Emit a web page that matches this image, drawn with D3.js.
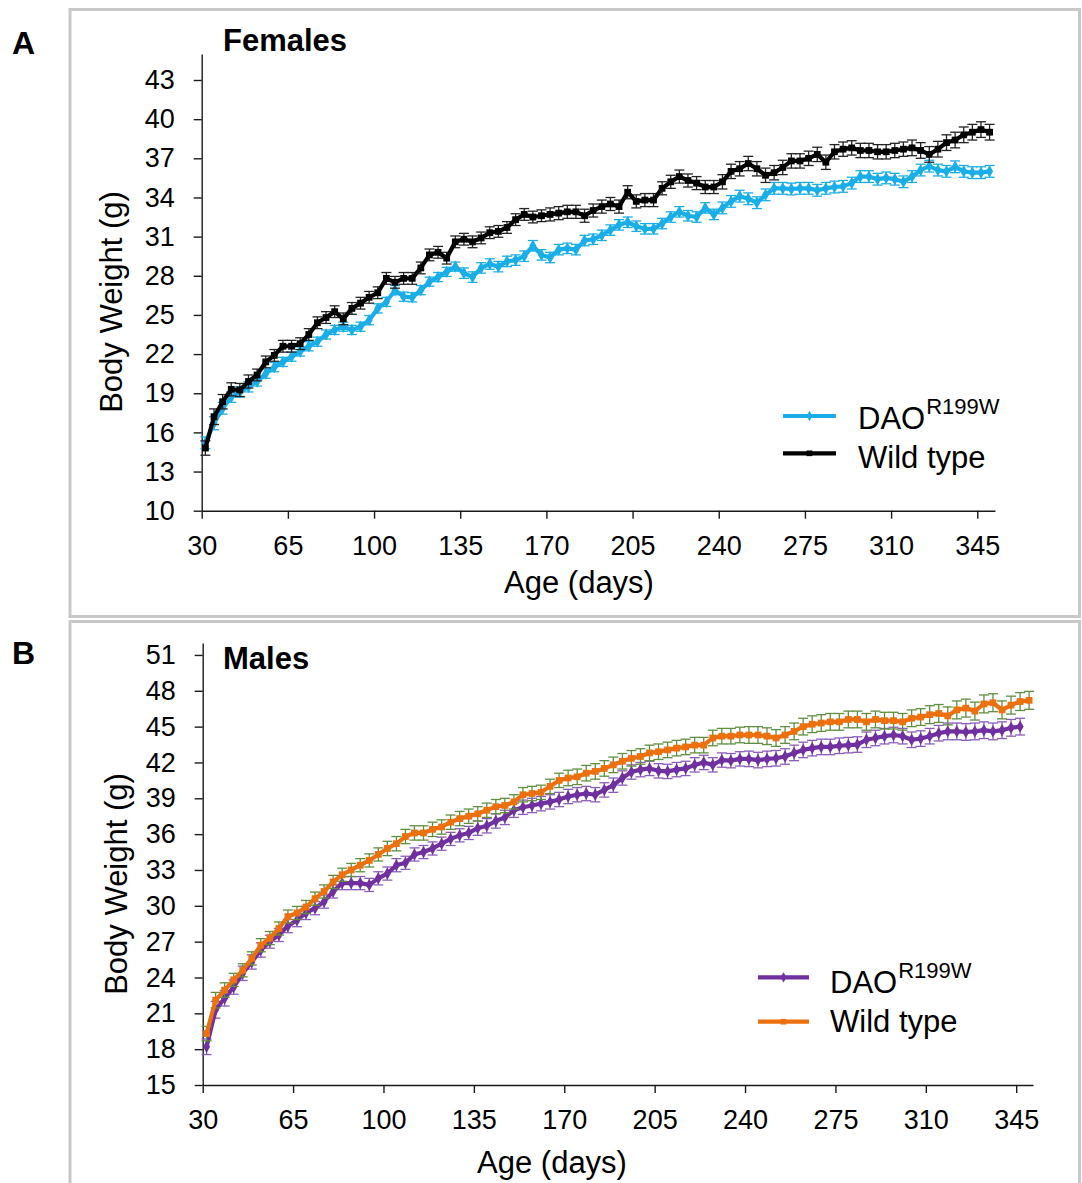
<!DOCTYPE html>
<html><head><meta charset="utf-8">
<script src="https://cdn.jsdelivr.net/npm/d3@7"></script>
<style>
body{margin:0;background:#fff}
svg{display:block}
text{font-family:"Liberation Sans",Arial,Helvetica,sans-serif}
</style>
</head><body>
<svg id="chart" width="1082" height="1183"></svg>
<script>
// ---------- DATA ----------
const ages = [31.5,35,38.5,42,45.5,49,52.5,56,59.5,63,66.5,70,73.5,77,80.5,84,87.5,91,94.5,98,
101.5,105,108.5,112,115.5,119,122.5,126,129.5,133,136.5,140,143.5,147,150.5,154,157.5,161,164.5,168,
171.5,175,178.5,182,185.5,189,192.5,196,199.5,203,206.5,210,213.5,217,220.5,224,227.5,231,234.5,238,
241.5,245,248.5,252,255.5,259,262.5,266,269.5,273,276.5,280,283.5,287,290.5,294,297.5,301,304.5,308,
311.5,315,318.5,322,325.5,329,332.5,336,339.5,343,346.5,350];
const xTickLabels = [30,65,100,135,170,205,240,275,310,345];
const femaleYTicks = [10,13,16,19,22,25,28,31,34,37,40,43];
const maleYTicks = [15,18,21,24,27,30,33,36,39,42,45,48,51];
const seriesNames = ["DAO", "Wild type"];

const femaleDAO = [15.2,16.7,17.85,18.7,19.1,19.5,19.9,20.5,21.0,21.4,21.8,22.2,22.6,22.95,23.5,23.85,24.1,23.85,24.1,24.6,
25.5,26.0,26.9,26.4,26.35,26.9,27.55,27.9,28.3,28.7,28.2,27.9,28.6,
28.9,28.7,29.1,29.2,29.5,30.3,29.6,29.4,30.0,30.1,30.0,30.7,30.8,31.1,31.5,31.9,32.1,31.8,31.6,31.6,32.0,32.5,32.9,32.6,32.5,33.2,32.7,33.2,33.7,34.1,33.9,
33.6,34.2,34.7,34.7,34.65,34.7,34.7,34.55,34.7,34.8,34.85,35.1,35.6,35.6,35.4,35.5,35.4,35.2,35.6,36.1,36.4,36.1,36.0,36.35,36.0,35.9,35.9,36.0];
const femaleWT = [14.8,17.2,18.35,19.3,19.25,19.9,20.4,21.4,21.9,22.6,22.6,22.8,23.5,24.4,24.8,25.25,24.7,25.5,25.9,26.35,
26.7,27.8,27.5,27.8,27.8,28.6,29.6,29.8,29.35,30.6,30.8,30.6,30.9,
31.3,31.4,31.7,32.3,32.7,32.5,32.6,32.7,32.8,32.9,32.9,32.6,33.0,33.3,33.5,33.3,34.4,33.7,33.8,33.8,34.7,35.2,35.6,35.3,35.1,34.8,34.8,35.2,36.0,36.2,36.6,
36.2,35.7,35.9,36.3,36.8,36.8,37.0,37.3,36.7,37.5,37.7,37.8,37.6,37.6,37.5,37.5,37.6,37.7,37.8,37.6,37.3,37.7,38.2,38.4,38.8,39.0,39.2,39.0];
const maleDAO = [18.2,21.3,22.26,23.2,24.35,25.3,26.3,27.0,27.56,28.3,28.8,29.4,29.8,30.35,31.2,31.9,31.9,31.9,31.75,32.3,
32.7,33.4,33.6,34.3,34.5,34.8,35.2,
35.6,35.9,36.1,36.5,36.7,37.1,37.4,38.0,38.25,38.4,38.55,38.7,38.9,39.15,39.3,39.4,39.3,39.7,40.1,40.7,41.2,41.4,41.5,41.3,41.25,41.4,41.5,41.8,42.0,41.8,42.2,42.15,42.3,42.3,
42.2,42.3,42.35,42.5,42.8,43.05,43.2,43.3,43.3,43.4,43.45,43.5,43.9,44.05,44.2,44.3,44.2,43.9,44.0,44.2,44.45,44.6,44.6,44.55,44.6,44.7,44.6,44.7,44.9,45.0];
const maleWT = [19.3,22.1,22.95,23.8,24.6,25.6,26.7,27.3,28.1,29.1,29.4,29.9,30.6,31.2,32.0,32.6,33.0,33.4,33.8,34.3,
34.8,35.2,35.8,36.1,36.1,36.4,36.6,37.0,37.3,37.5,37.7,
38.0,38.3,38.4,38.7,39.3,39.4,39.5,40.0,40.5,40.7,40.8,41.1,41.25,41.5,41.8,42.1,42.35,42.5,42.8,42.9,43.05,43.2,43.3,43.45,43.45,44.05,44.2,44.2,44.3,44.3,
44.3,44.2,44.05,44.3,44.6,45.0,45.2,45.3,45.4,45.4,45.6,45.6,45.4,45.6,45.5,45.5,45.4,45.7,45.8,46.0,46.1,45.9,46.4,46.55,46.3,46.9,47.0,46.4,46.8,47.1,47.2];

const semFemaleDAO = [0.45,0.5,0.45,0.4,0.4,0.4,0.35,0.35,0.35,0.35,
0.35,0.35,0.35,0.35,0.35,0.35,0.35,0.35,0.35,0.35,
0.35,0.35,0.35,0.35,0.35,0.35,0.35,0.35,0.35,0.35,
0.4,0.4,0.4,0.4,0.4,0.4,0.4,0.4,0.4,0.4,
0.4,0.4,0.4,0.4,0.4,0.4,0.4,0.4,0.4,0.4,
0.4,0.4,0.4,0.4,0.4,0.4,0.4,0.4,0.4,0.4,
0.45,0.45,0.45,0.45,0.45,0.45,0.45,0.45,0.45,0.45,
0.45,0.45,0.45,0.45,0.45,0.45,0.45,0.45,0.45,0.45,
0.45,0.45,0.45,0.45,0.45,0.45,0.45,0.45,0.45,0.45,
0.45,0.45];
const semFemaleWT = [0.55,0.6,0.55,0.5,0.5,0.5,0.45,0.45,0.45,0.45,
0.45,0.45,0.45,0.45,0.45,0.45,0.45,0.45,0.45,0.45,
0.45,0.45,0.45,0.45,0.45,0.45,0.45,0.45,0.45,0.45,
0.45,0.45,0.45,0.45,0.45,0.45,0.45,0.45,0.45,0.45,
0.5,0.5,0.5,0.5,0.5,0.5,0.5,0.5,0.5,0.5,
0.5,0.5,0.5,0.5,0.5,0.5,0.5,0.5,0.5,0.5,
0.55,0.55,0.55,0.55,0.55,0.55,0.55,0.55,0.55,0.55,
0.55,0.55,0.55,0.55,0.55,0.55,0.55,0.55,0.55,0.55,
0.55,0.55,0.6,0.6,0.6,0.6,0.6,0.6,0.6,0.6,
0.6,0.6];
const semMaleDAO = [0.65,0.7,0.65,0.6,0.6,0.6,0.6,0.55,0.55,0.55,
0.55,0.55,0.55,0.55,0.55,0.55,0.55,0.55,0.55,0.55,
0.55,0.55,0.55,0.55,0.55,0.55,0.55,0.55,0.55,0.55,
0.6,0.6,0.6,0.6,0.6,0.6,0.6,0.6,0.6,0.6,
0.6,0.6,0.6,0.6,0.6,0.6,0.6,0.6,0.6,0.6,
0.6,0.6,0.6,0.6,0.6,0.6,0.6,0.6,0.6,0.6,
0.65,0.65,0.65,0.65,0.65,0.65,0.65,0.65,0.65,0.65,
0.65,0.65,0.65,0.65,0.65,0.65,0.65,0.65,0.65,0.65,
0.65,0.65,0.7,0.7,0.7,0.7,0.7,0.7,0.7,0.7,
0.7];
const semMaleWT = [0.6,0.65,0.6,0.55,0.55,0.55,0.55,0.55,0.55,0.55,
0.55,0.55,0.55,0.55,0.55,0.55,0.55,0.55,0.55,0.55,
0.6,0.6,0.6,0.6,0.6,0.6,0.6,0.6,0.6,0.6,
0.6,0.6,0.6,0.6,0.6,0.6,0.6,0.6,0.6,0.6,
0.65,0.65,0.65,0.65,0.65,0.65,0.65,0.65,0.65,0.65,
0.65,0.65,0.65,0.65,0.65,0.65,0.65,0.65,0.65,0.65,
0.7,0.7,0.7,0.7,0.7,0.7,0.7,0.7,0.7,0.7,
0.7,0.7,0.7,0.7,0.7,0.7,0.7,0.7,0.7,0.7,
0.75,0.75,0.75,0.75,0.75,0.75,0.75,0.75,0.75,0.75,
0.75,0.75];

// ---------- STYLE / LAYOUT ----------
const FONT = '"Liberation Sans",Arial,Helvetica,sans-serif';
const panels = [
  { letter:"A", title:"Females", box:{x:70,y:9.5,w:1009.5,h:607},
    letterPos:[12,54], titlePos:[223,51],
    xRange:[201.7,995], xDomain:[30,352.2], yRange:[510.7,53.9], yDomain:[10,45], yTicks:femaleYTicks,
    yTitle:[122,302], xTitle:[579,593],
    legend:{x1:783,x2:836,y:[416,453.3],tx:858,ty:[429.3,468.3],supDx:1},
    series:[
      {values:femaleDAO, sem:semFemaleDAO, color:"#19aee8", err:"#19aee8", marker:d3.symbolDiamond, msize:44},
      {values:femaleWT, sem:semFemaleWT, color:"#000000", err:"#222222", marker:d3.symbolSquare, msize:46}
    ]},
  { letter:"B", title:"Males", box:{x:70,y:621.5,w:1009.5,h:600},
    letterPos:[12,664], titlePos:[223,669],
    xRange:[202.7,1033], xDomain:[30,351.5], yRange:[1085,643], yDomain:[15,52], yTicks:maleYTicks,
    yTitle:[127,884], xTitle:[552,1173],
    legend:{x1:758,x2:809,y:[977.3,1021.7],tx:830,ty:[992.7,1031.7],supDx:1},
    series:[
      {values:maleDAO, sem:semMaleDAO, color:"#7030a0", err:"#8c5cbc", marker:d3.symbolDiamond, msize:44},
      {values:maleWT, sem:semMaleWT, color:"#ec700e", err:"#5f8f3e", marker:d3.symbolSquare, msize:46}
    ]}
];

const svg = d3.select("#chart");

panels.forEach(p => {
  // panel border
  svg.append("rect").attr("x",p.box.x).attr("y",p.box.y).attr("width",p.box.w).attr("height",p.box.h)
    .attr("fill","none").attr("stroke","#c8c8c8").attr("stroke-width",3);
  // panel letter
  svg.append("text").attr("x",p.letterPos[0]).attr("y",p.letterPos[1]).text(p.letter)
    .attr("font-size",32).attr("font-weight","bold").attr("font-family",FONT);
  // title
  svg.append("text").attr("x",p.titlePos[0]).attr("y",p.titlePos[1]).text(p.title)
    .attr("font-size",31).attr("font-weight","bold").attr("font-family",FONT);

  const x = d3.scaleLinear().domain(p.xDomain).range(p.xRange);
  const y = d3.scaleLinear().domain(p.yDomain).range(p.yRange);

  // axes
  const gy = svg.append("g").attr("transform",`translate(${p.xRange[0]},0)`)
    .call(d3.axisLeft(y).tickValues(p.yTicks).tickSize(8).tickSizeOuter(0).tickPadding(19).tickFormat(d3.format("d")));
  const gx = svg.append("g").attr("transform",`translate(0,${p.yRange[0]})`)
    .call(d3.axisBottom(x).tickValues(xTickLabels).tickSize(8).tickSizeOuter(0).tickPadding(17).tickFormat(d3.format("d")));
  [gy,gx].forEach(g => {
    g.attr("font-size",27).attr("font-family",FONT);
    g.selectAll("path,line").attr("stroke","#1a1a1a").attr("stroke-width",1.4);
    g.selectAll("text").attr("fill","#000");
  });

  // axis titles
  svg.append("text").attr("transform",`translate(${p.yTitle[0]},${p.yTitle[1]}) rotate(-90)`)
    .attr("text-anchor","middle").attr("font-size",31).attr("font-family",FONT).text("Body Weight (g)");
  svg.append("text").attr("x",p.xTitle[0]).attr("y",p.xTitle[1])
    .attr("text-anchor","middle").attr("font-size",31).attr("font-family",FONT).text("Age (days)");

  // series
  const plot = svg.append("g");
  p.series.forEach(s => {
    const pts = s.values.map((v,i) => ({age:ages[i], v:v, e:s.sem[i]}));
    const eg = plot.append("g").attr("stroke",s.err).attr("stroke-width",1.3).attr("fill","none");
    pts.forEach(d => {
      const cx = x(d.age), y1 = y(d.v + d.e), y2 = y(d.v - d.e);
      eg.append("line").attr("x1",cx).attr("x2",cx).attr("y1",y1).attr("y2",y2);
      eg.append("line").attr("x1",cx-5).attr("x2",cx+5).attr("y1",y1).attr("y2",y1);
      eg.append("line").attr("x1",cx-5).attr("x2",cx+5).attr("y1",y2).attr("y2",y2);
    });
    plot.append("path").datum(pts)
      .attr("d", d3.line().x(d=>x(d.age)).y(d=>y(d.v)))
      .attr("fill","none").attr("stroke",s.color).attr("stroke-width",4.2).attr("stroke-linejoin","round");
    plot.selectAll(null).data(pts).enter().append("path")
      .attr("transform",d=>`translate(${x(d.age)},${y(d.v)})`)
      .attr("d", d3.symbol().type(s.marker).size(s.msize))
      .attr("fill",s.color);
  });

  // legend
  const L = p.legend;
  p.series.forEach((s,i) => {
    svg.append("line").attr("x1",L.x1).attr("x2",L.x2).attr("y1",L.y[i]).attr("y2",L.y[i])
      .attr("stroke",s.color).attr("stroke-width",4.2);
    svg.append("path").attr("transform",`translate(${(L.x1+L.x2)/2},${L.y[i]})`)
      .attr("d", d3.symbol().type(s.marker).size(s.msize*0.7)).attr("fill",s.color);
    const t = svg.append("text").attr("x",L.tx).attr("y",L.ty[i]).attr("font-size",31).attr("font-family",FONT);
    t.append("tspan").text(seriesNames[i]);
    if (i === 0) {
      t.append("tspan").attr("dx",L.supDx).attr("dy",-15).attr("font-size",22).text("R199W");
    }
  });
});
</script>
</body></html>
